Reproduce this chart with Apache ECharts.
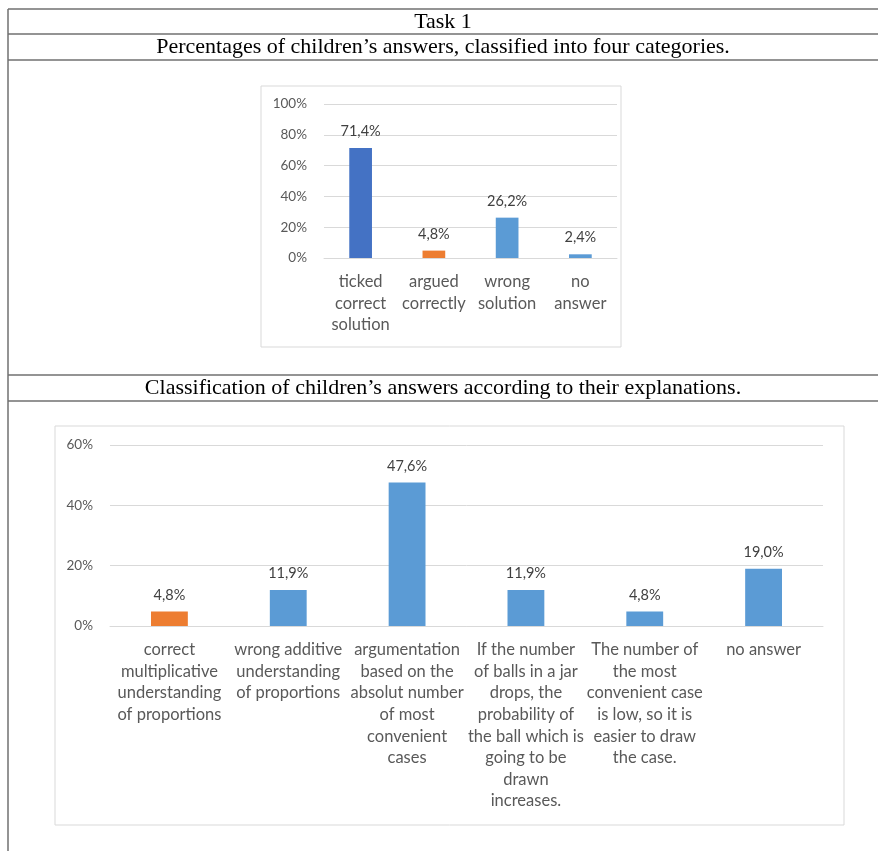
<!DOCTYPE html>
<html>
<head>
<meta charset="utf-8">
<title>Task 1</title>
<script src="https://cdn.jsdelivr.net/npm/echarts@6/dist/echarts.min.js"></script>
<style>
  html, body { margin: 0; padding: 0; background: #fff; }
  #chart { width: 878px; height: 851px; }
</style>
</head>
<body>
<div id="chart"></div>
<script>
// Task 1 — two bar charts inside a bordered table, percentages with comma decimals.
var headerText = "Task 1";
var topTitle = "Percentages of children\u2019s answers, classified into four categories.";
var bottomTitle = "Classification of children\u2019s answers according to their explanations.";

var fourCategories = ["ticked\ncorrect\nsolution", "argued\ncorrectly", "wrong\nsolution", "no\nanswer"];
var fourValues = [71.4, 4.8, 26.2, 2.4];

var explCategories = [
  "correct\nmultiplicative\nunderstanding\nof proportions",
  "wrong additive\nunderstanding\nof proportions",
  "argumentation\nbased on the\nabsolut number\nof most\nconvenient\ncases",
  "If the number\nof balls in a jar\ndrops, the\nprobability of\nthe ball which is\ngoing to be\ndrawn\nincreases.",
  "The number of\nthe most\nconvenient case\nis low, so it is\neasier to draw\nthe case.",
  "no answer"
];
var explValues = [4.8, 11.9, 47.6, 11.9, 4.8, 19.0];

// styling
var fourColors = ["#4472C4", "#ED7D31", "#5B9BD5", "#5B9BD5"];
var explColors = ["#ED7D31", "#5B9BD5", "#5B9BD5", "#5B9BD5", "#5B9BD5", "#5B9BD5"];
var FONT = "Lato, 'Open Sans', sans-serif";
var SERIF = "'Liberation Serif', 'DejaVu Serif', serif";
var TABLE = "#707070";

function pct(v) { return v.toFixed(1).replace(".", ",") + "%"; }

function build(values, colors) {
  return values.map(function (v, i) {
    return { value: v, itemStyle: { color: colors[i] } };
  });
}

function valueAxis(grid, max) {
  return {
    type: "value", gridIndex: grid, min: 0, max: max, interval: 20,
    axisLine: { show: false }, axisTick: { show: false },
    splitLine: { lineStyle: { color: "#d9d9d9", width: 1 } },
    axisLabel: { formatter: "{value}%", color: "#595959", fontSize: 13.5, fontFamily: FONT, margin: 17 }
  };
}

function catAxis(grid, cats) {
  return {
    type: "category", gridIndex: grid, data: cats,
    axisLine: { lineStyle: { color: "#d9d9d9" } }, axisTick: { show: false },
    axisLabel: { color: "#595959", fontSize: 16.5, lineHeight: 21.6, fontFamily: FONT, margin: 13, interval: 0 }
  };
}

function barSeries(idx, values, colors) {
  return {
    type: "bar", xAxisIndex: idx, yAxisIndex: idx, barWidth: "31%",
    data: build(values, colors),
    label: {
      show: true, position: "top", distance: 9, color: "#404040",
      fontSize: 14.5, fontFamily: FONT,
      formatter: function (p) { return pct(p.value); }
    }
  };
}

function hline(y) {
  return { type: "line", shape: { x1: 8, y1: y, x2: 878, y2: y }, style: { stroke: TABLE, lineWidth: 1.5 } };
}

function title(txt, y) {
  return {
    type: "text", x: 443, y: y,
    style: { text: txt, fill: "#000", font: "22px " + SERIF, textAlign: "center", textVerticalAlign: "middle" }
  };
}

var chart = echarts.init(document.getElementById("chart"), null, { renderer: "canvas" });
chart.setOption({
  animation: false,
  backgroundColor: "#fff",
  graphic: [
    { type: "rect", z: -10, shape: { x: 261, y: 86, width: 360, height: 261 }, style: { fill: "#fff", stroke: "#d9d9d9", lineWidth: 1 } },
    { type: "rect", z: -10, shape: { x: 55, y: 426, width: 789, height: 399 }, style: { fill: "#fff", stroke: "#d9d9d9", lineWidth: 1 } },
    hline(9), hline(34), hline(60), hline(375), hline(401),
    { type: "line", shape: { x1: 8, y1: 9, x2: 8, y2: 851 }, style: { stroke: TABLE, lineWidth: 1.5 } },
    title(headerText, 22),
    title(topTitle, 47.5),
    title(bottomTitle, 388.5)
  ],
  grid: [
    { left: 324, top: 104, width: 293, height: 154 },
    { left: 110, top: 445, width: 713, height: 181 }
  ],
  xAxis: [catAxis(0, fourCategories), catAxis(1, explCategories)],
  yAxis: [valueAxis(0, 100), valueAxis(1, 60)],
  series: [barSeries(0, fourValues, fourColors), barSeries(1, explValues, explColors)]
});
</script>
</body>
</html>
